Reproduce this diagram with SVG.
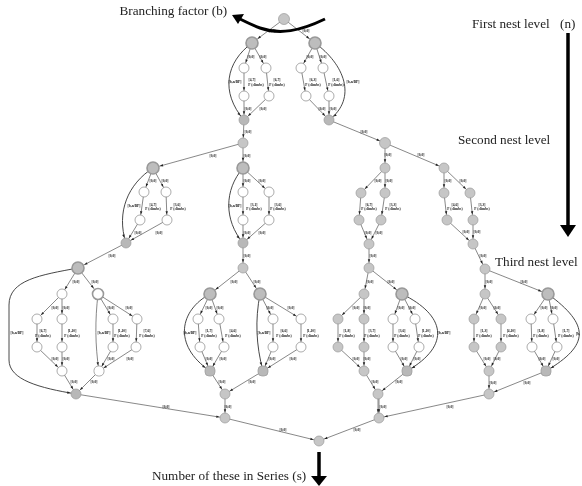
<svg xmlns="http://www.w3.org/2000/svg" width="582" height="486" viewBox="0 0 582 486">
<style>
.bg{fill:#fff}
.e{fill:none;stroke:#555;stroke-width:.7;marker-end:url(#a)}
.d{fill:none;stroke:#555;stroke-width:.7;marker-end:url(#b)}
.c{fill:none;stroke:#333;stroke-width:.9;marker-end:url(#a)}
.g{fill:#c6c6c6;stroke:#999;stroke-width:.7}
.w{fill:#fff;stroke:#888;stroke-width:.7}
.o{fill:#bdbdbd;stroke:#999;stroke-width:1.6}
.ow{fill:#fff;stroke:#999;stroke-width:1.6}
.s{fill:#b8b8b8;stroke:#999;stroke-width:.7}
text{font-family:"Liberation Serif",serif}
.l{font-size:3.6px;font-weight:700;text-anchor:middle;fill:#222}
.t{font-size:13.2px;fill:#222}
.k{fill:none;stroke:#000}
#graph{filter:url(#soft)}
</style>
<defs>
<filter id="soft" filterUnits="userSpaceOnUse" x="0" y="0" width="582" height="486"><feGaussianBlur stdDeviation="0.3"/></filter>
<marker id="a" markerUnits="userSpaceOnUse" markerWidth="4" markerHeight="4" refX="8.8" refY="1.5" orient="auto" overflow="visible"><path d="M0,.3L3.2,1.5L0,2.7z" fill="#222"/></marker>
<marker id="b" markerUnits="userSpaceOnUse" markerWidth="4" markerHeight="4" refX="10.3" refY="1.5" orient="auto" overflow="visible"><path d="M0,.3L3.2,1.5L0,2.7z" fill="#222"/></marker>
</defs>
<rect class="bg" width="582" height="486"/>
<g id="graph">
<g id="connectors">
<path class="d" d="M284,19L252,43"/><path class="d" d="M284,19L315,43"/>
<path class="e" d="M252,43L244,68"/><path class="e" d="M252,43L266,68"/>
<path class="c" d="M252,43C226,62 220,92 244,120"/>
<path class="e" d="M244,68L244,96"/><path class="e" d="M266,68L269,96"/><path class="e" d="M244,96L244,120"/><path class="e" d="M269,96L244,120"/>
<path class="e" d="M315,43L301,68"/><path class="e" d="M315,43L323,68"/>
<path class="c" d="M315,43C344,64 358,98 329,120"/>
<path class="e" d="M301,68L306,96"/><path class="e" d="M323,68L329,96"/><path class="e" d="M306,96L329,120"/><path class="e" d="M329,96L329,120"/>
<path class="e" d="M244,120L243,143"/><path class="e" d="M329,120L385,143"/>
<path class="d" d="M243,143L153,168"/><path class="d" d="M243,143L243,168"/>
<path class="e" d="M153,168L144,192"/><path class="e" d="M153,168L166,192"/>
<path class="c" d="M153,168C128,184 116,212 126,243"/>
<path class="e" d="M144,192L140,220"/><path class="e" d="M166,192L167,220"/><path class="e" d="M140,220L126,243"/><path class="e" d="M167,220L126,243"/>
<path class="d" d="M126,243L78,268"/>
<path class="e" d="M243,168L243,192"/><path class="e" d="M243,168L269,192"/>
<path class="c" d="M243,168C224,190 224,220 243,243"/>
<path class="e" d="M243,192L243,220"/><path class="e" d="M269,192L269,220"/><path class="e" d="M243,220L243,243"/><path class="e" d="M269,220L243,243"/>
<path class="e" d="M243,243L243,268"/>
<path class="e" d="M385,143L385,168"/><path class="e" d="M385,143L444,168"/>
<path class="e" d="M385,168L361,193"/><path class="e" d="M385,168L385,193"/><path class="e" d="M361,193L359,220"/><path class="e" d="M385,193L381,220"/><path class="e" d="M359,220L369,244"/><path class="e" d="M381,220L369,244"/><path class="e" d="M369,244L369,268"/>
<path class="e" d="M444,168L444,193"/><path class="e" d="M444,168L470,193"/><path class="e" d="M444,193L447,220"/><path class="e" d="M470,193L473,220"/><path class="e" d="M447,220L473,244"/><path class="e" d="M473,220L473,244"/><path class="e" d="M473,244L485,269"/>
<path class="c" d="M78,268C40,275 9,280 9,305L9,360C9,380 40,388 76,394"/>
<path class="e" d="M78,268L62,294"/><path class="d" d="M78,268L98,294"/>
<path class="e" d="M62,294L37,319"/><path class="e" d="M62,294L62,319"/><path class="e" d="M37,319L37,347"/><path class="e" d="M62,319L62,347"/><path class="e" d="M37,347L62,371"/><path class="e" d="M62,347L62,371"/>
<path class="e" d="M98,294L113,319"/><path class="e" d="M98,294L137,319"/><path class="e" d="M98,294C95,320 95,345 99,371"/>
<path class="e" d="M113,319L113,347"/><path class="e" d="M137,319L136,347"/><path class="e" d="M113,347L99,371"/><path class="e" d="M136,347L99,371"/>
<path class="e" d="M62,371L76,394"/><path class="e" d="M99,371L76,394"/>
<path class="e" d="M76,394L225,418"/><path class="e" d="M225,394L225,418"/><path class="e" d="M225,418L319,441"/><path class="e" d="M379,418L319,441"/><path class="e" d="M379,394L379,418"/><path class="e" d="M489,394L379,418"/>
<path class="d" d="M243,268L210,294"/><path class="d" d="M243,268L260,294"/>
<path class="e" d="M210,294L198,319"/><path class="e" d="M210,294L219,319"/><path class="c" d="M210,294C180,310 172,345 210,371"/>
<path class="e" d="M198,319L200,347"/><path class="e" d="M219,319L224,347"/><path class="e" d="M200,347L210,371"/><path class="e" d="M224,347L210,371"/>
<path class="e" d="M260,294L273,319"/><path class="e" d="M260,294L301,319"/><path class="c" d="M260,294C255,320 256,345 263,371"/>
<path class="e" d="M273,319L273,347"/><path class="e" d="M301,319L301,347"/><path class="e" d="M273,347L263,371"/><path class="e" d="M301,347L263,371"/>
<path class="e" d="M210,371L225,394"/><path class="e" d="M263,371L225,394"/>
<path class="e" d="M369,268L364,294"/><path class="d" d="M369,268L402,294"/>
<path class="e" d="M364,294L338,319"/><path class="e" d="M364,294L364,319"/><path class="e" d="M338,319L338,347"/><path class="e" d="M364,319L364,347"/><path class="e" d="M338,347L364,371"/><path class="e" d="M364,347L364,371"/>
<path class="e" d="M402,294L393,319"/><path class="e" d="M402,294L415,319"/><path class="c" d="M402,294C445,315 452,345 407,371"/>
<path class="e" d="M393,319L393,347"/><path class="e" d="M415,319L419,347"/><path class="e" d="M393,347L407,371"/><path class="e" d="M419,347L407,371"/>
<path class="e" d="M364,371L378,394"/><path class="e" d="M407,371L378,394"/><path class="e" d="M378,394L378,418"/>
<path class="e" d="M485,269L485,294"/><path class="d" d="M485,269L548,294"/>
<path class="e" d="M485,294L474,319"/><path class="e" d="M485,294L501,319"/><path class="e" d="M474,319L474,347"/><path class="e" d="M501,319L501,347"/><path class="e" d="M474,347L489,371"/><path class="e" d="M501,347L489,371"/><path class="e" d="M489,371L489,394"/>
<path class="e" d="M548,294L531,319"/><path class="e" d="M548,294L553,319"/><path class="c" d="M548,294C590,325 590,345 546,371"/>
<path class="e" d="M531,319L532,347"/><path class="e" d="M553,319L557,347"/><path class="e" d="M532,347L546,371"/><path class="e" d="M557,347L546,371"/>
<path class="e" d="M546,371L489,394"/>
</g>
<g id="nodes">
<g id="n1"><circle class="g" cx="284" cy="19" r="5.5"/></g>
<g id="n2"><circle class="o" cx="252" cy="43" r="6"/></g>
<g id="n3"><circle class="o" cx="315" cy="43" r="6"/></g>
<g id="n4"><circle class="w" cx="244" cy="68" r="5"/></g>
<g id="n5"><circle class="w" cx="266" cy="68" r="5"/></g>
<g id="n6"><circle class="w" cx="244" cy="96" r="5"/></g>
<g id="n7"><circle class="w" cx="269" cy="96" r="5"/></g>
<g id="n8"><circle class="s" cx="244" cy="120" r="5"/></g>
<g id="n9"><circle class="w" cx="301" cy="68" r="5"/></g>
<g id="n10"><circle class="w" cx="323" cy="68" r="5"/></g>
<g id="n11"><circle class="w" cx="306" cy="96" r="5"/></g>
<g id="n12"><circle class="w" cx="329" cy="96" r="5"/></g>
<g id="n13"><circle class="s" cx="329" cy="120" r="5"/></g>
<g id="n14"><circle class="g" cx="243" cy="143" r="5"/></g>
<g id="n15"><circle class="o" cx="153" cy="168" r="6"/></g>
<g id="n16"><circle class="o" cx="243" cy="168" r="6"/></g>
<g id="n17"><circle class="w" cx="144" cy="192" r="5"/></g>
<g id="n18"><circle class="w" cx="166" cy="192" r="5"/></g>
<g id="n19"><circle class="w" cx="140" cy="220" r="5"/></g>
<g id="n20"><circle class="w" cx="167" cy="220" r="5"/></g>
<g id="n21"><circle class="s" cx="126" cy="243" r="5"/></g>
<g id="n22"><circle class="w" cx="243" cy="192" r="5"/></g>
<g id="n23"><circle class="w" cx="269" cy="192" r="5"/></g>
<g id="n24"><circle class="w" cx="243" cy="220" r="5"/></g>
<g id="n25"><circle class="w" cx="269" cy="220" r="5"/></g>
<g id="n26"><circle class="s" cx="243" cy="243" r="5"/></g>
<g id="n27"><circle class="g" cx="243" cy="268" r="5"/></g>
<g id="n28"><circle class="g" cx="385" cy="143" r="5.5"/></g>
<g id="n29"><circle class="g" cx="385" cy="168" r="5"/></g>
<g id="n30"><circle class="g" cx="444" cy="168" r="5"/></g>
<g id="n31"><circle class="g" cx="361" cy="193" r="5"/></g>
<g id="n32"><circle class="g" cx="385" cy="193" r="5"/></g>
<g id="n33"><circle class="g" cx="359" cy="220" r="5"/></g>
<g id="n34"><circle class="g" cx="381" cy="220" r="5"/></g>
<g id="n35"><circle class="g" cx="369" cy="244" r="5"/></g>
<g id="n36"><circle class="g" cx="369" cy="268" r="5"/></g>
<g id="n37"><circle class="g" cx="444" cy="193" r="5"/></g>
<g id="n38"><circle class="g" cx="470" cy="193" r="5"/></g>
<g id="n39"><circle class="g" cx="447" cy="220" r="5"/></g>
<g id="n40"><circle class="g" cx="473" cy="220" r="5"/></g>
<g id="n41"><circle class="g" cx="473" cy="244" r="5"/></g>
<g id="n42"><circle class="g" cx="485" cy="269" r="5"/></g>
<g id="n43"><circle class="o" cx="78" cy="268" r="6"/></g>
<g id="n44"><circle class="w" cx="62" cy="294" r="5"/></g>
<g id="n45"><circle class="ow" cx="98" cy="294" r="5.5"/></g>
<g id="n46"><circle class="w" cx="37" cy="319" r="5"/></g>
<g id="n47"><circle class="w" cx="62" cy="319" r="5"/></g>
<g id="n48"><circle class="w" cx="113" cy="319" r="5"/></g>
<g id="n49"><circle class="w" cx="137" cy="319" r="5"/></g>
<g id="n50"><circle class="w" cx="37" cy="347" r="5"/></g>
<g id="n51"><circle class="w" cx="62" cy="347" r="5"/></g>
<g id="n52"><circle class="w" cx="113" cy="347" r="5"/></g>
<g id="n53"><circle class="w" cx="136" cy="347" r="5"/></g>
<g id="n54"><circle class="w" cx="62" cy="371" r="5"/></g>
<g id="n55"><rect class="w" x="94" y="366" width="10" height="10" rx="4.5"/></g>
<g id="n56"><circle class="s" cx="76" cy="394" r="5"/></g>
<g id="n57"><circle class="o" cx="210" cy="294" r="6"/></g>
<g id="n58"><circle class="o" cx="260" cy="294" r="6"/></g>
<g id="n59"><circle class="w" cx="198" cy="319" r="5"/></g>
<g id="n60"><circle class="w" cx="219" cy="319" r="5"/></g>
<g id="n61"><circle class="w" cx="273" cy="319" r="5"/></g>
<g id="n62"><circle class="w" cx="301" cy="319" r="5"/></g>
<g id="n63"><circle class="w" cx="200" cy="347" r="5"/></g>
<g id="n64"><circle class="w" cx="224" cy="347" r="5"/></g>
<g id="n65"><circle class="w" cx="273" cy="347" r="5"/></g>
<g id="n66"><circle class="w" cx="301" cy="347" r="5"/></g>
<g id="n67"><rect class="s" x="205" y="366" width="10" height="10" rx="4"/></g>
<g id="n68"><rect class="s" x="258" y="366" width="10" height="10" rx="4"/></g>
<g id="n69"><circle class="g" cx="225" cy="394" r="5"/></g>
<g id="n70"><circle class="g" cx="225" cy="418" r="5"/></g>
<g id="n71"><circle class="g" cx="364" cy="294" r="5"/></g>
<g id="n72"><circle class="o" cx="402" cy="294" r="6"/></g>
<g id="n73"><circle class="g" cx="338" cy="319" r="5"/></g>
<g id="n74"><circle class="g" cx="364" cy="319" r="5"/></g>
<g id="n75"><circle class="w" cx="393" cy="319" r="5"/></g>
<g id="n76"><circle class="w" cx="415" cy="319" r="5"/></g>
<g id="n77"><circle class="g" cx="338" cy="347" r="5"/></g>
<g id="n78"><circle class="g" cx="364" cy="347" r="5"/></g>
<g id="n79"><circle class="w" cx="393" cy="347" r="5"/></g>
<g id="n80"><circle class="w" cx="419" cy="347" r="5"/></g>
<g id="n81"><circle class="g" cx="364" cy="371" r="5"/></g>
<g id="n82"><rect class="s" x="402" y="366" width="10" height="10" rx="4"/></g>
<g id="n83"><circle class="g" cx="378" cy="394" r="5"/></g>
<g id="n84"><circle class="g" cx="379" cy="418" r="5"/></g>
<g id="n85"><circle class="g" cx="485" cy="294" r="5"/></g>
<g id="n86"><circle class="o" cx="548" cy="294" r="6"/></g>
<g id="n87"><circle class="g" cx="474" cy="319" r="5"/></g>
<g id="n88"><circle class="g" cx="501" cy="319" r="5"/></g>
<g id="n89"><circle class="w" cx="531" cy="319" r="5"/></g>
<g id="n90"><circle class="w" cx="553" cy="319" r="5"/></g>
<g id="n91"><circle class="g" cx="474" cy="347" r="5"/></g>
<g id="n92"><circle class="g" cx="501" cy="347" r="5"/></g>
<g id="n93"><circle class="w" cx="532" cy="347" r="5"/></g>
<g id="n94"><circle class="w" cx="557" cy="347" r="5"/></g>
<g id="n95"><circle class="g" cx="489" cy="371" r="5"/></g>
<g id="n96"><rect class="s" x="541" y="366" width="10" height="10" rx="4"/></g>
<g id="n97"><circle class="g" cx="489" cy="394" r="5"/></g>
<g id="n98"><circle class="g" cx="319" cy="441" r="5"/></g>
</g>
<g id="edge-labels">
<text class="l" x="272" y="32">[0,0]</text><text class="l" x="306" y="32">[0,0]</text><text class="l" x="251" y="58">[0,0]</text><text class="l" x="263" y="58">[0,0]</text><text class="l" x="310" y="58">[0,0]</text><text class="l" x="323" y="58">[0,0]</text>
<text class="l" x="235" y="83">[b,n/BP]</text><text class="l" x="252" y="81">[4,7]</text><text class="l" x="256" y="86">P (climbs)</text><text class="l" x="277" y="81">[6,7]</text><text class="l" x="277" y="86">P (climbs)</text>
<text class="l" x="313" y="81">[6,3]</text><text class="l" x="313" y="86">P (climbs)</text><text class="l" x="336" y="81">[1,6]</text><text class="l" x="336" y="86">P (climbs)</text><text class="l" x="353" y="83">[b,n/BP]</text>
<text class="l" x="248" y="110">[0,0]</text><text class="l" x="263" y="110">[0,0]</text><text class="l" x="322" y="110">[0,0]</text><text class="l" x="333" y="110">[0,0]</text>
<text class="l" x="248" y="133">[0,0]</text><text class="l" x="364" y="133">[0,0]</text><text class="l" x="213" y="157">[0,0]</text><text class="l" x="247" y="157">[0,0]</text><text class="l" x="388" y="156">[0,0]</text><text class="l" x="421" y="156">[0,0]</text>
<text class="l" x="153" y="182">[0,0]</text><text class="l" x="165" y="182">[0,0]</text><text class="l" x="247" y="182">[0,0]</text><text class="l" x="262" y="182">[0,0]</text><text class="l" x="378" y="182">[0,0]</text><text class="l" x="389" y="182">[0,0]</text><text class="l" x="448" y="182">[0,0]</text><text class="l" x="463" y="182">[0,0]</text>
<text class="l" x="134" y="207">[b,n/BP]</text><text class="l" x="153" y="206">[4,7]</text><text class="l" x="153" y="210">P (climbs)</text><text class="l" x="177" y="206">[3,6]</text><text class="l" x="178" y="210">P (climbs)</text>
<text class="l" x="235" y="207">[b,n/BP]</text><text class="l" x="254" y="206">[3,1]</text><text class="l" x="254" y="210">P (climbs)</text><text class="l" x="278" y="206">[3,6]</text><text class="l" x="278" y="210">P (climbs)</text>
<text class="l" x="369" y="206">[6,7]</text><text class="l" x="369" y="210">P (climbs)</text><text class="l" x="393" y="206">[3,3]</text><text class="l" x="393" y="210">P (climbs)</text><text class="l" x="455" y="206">[4,6]</text><text class="l" x="455" y="210">P (climbs)</text><text class="l" x="482" y="206">[3,3]</text><text class="l" x="482" y="210">P (climbs)</text>
<text class="l" x="138" y="234">[0,0]</text><text class="l" x="159" y="234">[0,0]</text><text class="l" x="247" y="234">[0,0]</text><text class="l" x="262" y="234">[0,0]</text><text class="l" x="368" y="234">[0,0]</text><text class="l" x="379" y="234">[0,0]</text><text class="l" x="466" y="233">[0,0]</text><text class="l" x="477" y="233">[0,0]</text>
<text class="l" x="112" y="257">[0,0]</text><text class="l" x="247" y="257">[0,0]</text><text class="l" x="373" y="257">[0,0]</text><text class="l" x="483" y="257">[0,0]</text>
<text class="l" x="76" y="283">[0,0]</text><text class="l" x="95" y="283">[0,0]</text><text class="l" x="234" y="283">[0,0]</text><text class="l" x="257" y="283">[0,0]</text><text class="l" x="370" y="283">[0,0]</text><text class="l" x="391" y="283">[0,0]</text><text class="l" x="489" y="283">[0,0]</text><text class="l" x="524" y="283">[0,0]</text>
<text class="l" x="55" y="309">[0,0]</text><text class="l" x="66" y="309">[0,0]</text><text class="l" x="111" y="309">[0,0]</text><text class="l" x="129" y="309">[0,0]</text><text class="l" x="209" y="309">[0,0]</text><text class="l" x="220" y="309">[0,0]</text><text class="l" x="270" y="309">[0,0]</text><text class="l" x="291" y="309">[0,0]</text><text class="l" x="356" y="309">[0,0]</text><text class="l" x="367" y="309">[0,0]</text><text class="l" x="401" y="309">[0,0]</text><text class="l" x="412" y="309">[0,0]</text><text class="l" x="483" y="309">[0,0]</text><text class="l" x="497" y="309">[0,0]</text><text class="l" x="544" y="309">[0,0]</text><text class="l" x="554" y="309">[0,0]</text>
<text class="l" x="17" y="334">[b,n/BP]</text><text class="l" x="43" y="332">[6,7]</text><text class="l" x="43" y="337">P (climbs)</text><text class="l" x="72" y="332">[1,10]</text><text class="l" x="72" y="337">P (climbs)</text><text class="l" x="104" y="334">[b,n/BP]</text><text class="l" x="122" y="332">[1,10]</text><text class="l" x="122" y="337">P (climbs)</text><text class="l" x="147" y="332">[7,6]</text><text class="l" x="147" y="337">P (climbs)</text>
<text class="l" x="190" y="334">[b,n/BP]</text><text class="l" x="209" y="332">[1,7]</text><text class="l" x="209" y="337">P (climbs)</text><text class="l" x="233" y="332">[4,6]</text><text class="l" x="233" y="337">P (climbs)</text><text class="l" x="264" y="334">[b,n/BP]</text><text class="l" x="284" y="332">[6,6]</text><text class="l" x="284" y="337">P (climbs)</text><text class="l" x="311" y="332">[1,10]</text><text class="l" x="311" y="337">P (climbs)</text>
<text class="l" x="347" y="332">[1,8]</text><text class="l" x="347" y="337">P (climbs)</text><text class="l" x="372" y="332">[3,7]</text><text class="l" x="372" y="337">P (climbs)</text><text class="l" x="402" y="332">[3,6]</text><text class="l" x="402" y="337">P (climbs)</text><text class="l" x="426" y="332">[1,10]</text><text class="l" x="426" y="337">P (climbs)</text><text class="l" x="444" y="334">[b,n/BP]</text>
<text class="l" x="484" y="332">[1,3]</text><text class="l" x="484" y="337">P (climbs)</text><text class="l" x="511" y="332">[4,10]</text><text class="l" x="511" y="337">P (climbs)</text><text class="l" x="541" y="332">[1,8]</text><text class="l" x="541" y="337">P (climbs)</text><text class="l" x="566" y="332">[1,7]</text><text class="l" x="566" y="337">P (climbs)</text><text class="l" x="578" y="335">[b,</text>
<text class="l" x="55" y="360">[0,0]</text><text class="l" x="66" y="360">[0,0]</text><text class="l" x="111" y="360">[0,0]</text><text class="l" x="130" y="360">[0,0]</text><text class="l" x="209" y="360">[0,0]</text><text class="l" x="223" y="360">[0,0]</text><text class="l" x="272" y="360">[0,0]</text><text class="l" x="293" y="360">[0,0]</text><text class="l" x="356" y="360">[0,0]</text><text class="l" x="367" y="360">[0,0]</text><text class="l" x="404" y="360">[0,0]</text><text class="l" x="417" y="360">[0,0]</text><text class="l" x="487" y="360">[0,0]</text><text class="l" x="497" y="360">[0,0]</text><text class="l" x="542" y="360">[0,0]</text><text class="l" x="556" y="360">[0,0]</text>
<text class="l" x="74" y="383">[0,0]</text><text class="l" x="94" y="383">[0,0]</text><text class="l" x="222" y="383">[0,0]</text><text class="l" x="252" y="383">[0,0]</text><text class="l" x="375" y="383">[0,0]</text><text class="l" x="399" y="383">[0,0]</text><text class="l" x="493" y="384">[0,0]</text><text class="l" x="527" y="384">[0,0]</text>
<text class="l" x="166" y="408">[0,0]</text><text class="l" x="228" y="408">[0,0]</text><text class="l" x="383" y="408">[0,0]</text><text class="l" x="450" y="408">[0,0]</text><text class="l" x="283" y="431">[0,0]</text><text class="l" x="357" y="431">[0,0]</text>
</g>
<g id="annotations">
<path class="k" stroke-width="3" d="M325,19C300,31 280,35 260,28C252,25 248,23 240,19"/>
<polygon points="232,15 244,14 238,24"/>
<path class="k" stroke-width="3.5" d="M568,33L568,226"/>
<polygon points="560,225 576,225 568,237"/>
<path class="k" stroke-width="3.5" d="M319,452L319,477"/>
<polygon points="311,476 327,476 319,486"/>
<text class="t" x="119.5" y="15">Branching factor (b)</text>
<text class="t" x="472" y="28">First nest level</text>
<text class="t" x="560" y="28">(n)</text>
<text class="t" x="458" y="144">Second nest level</text>
<text class="t" x="495" y="266">Third nest level</text>
<text class="t" x="152" y="480">Number of these in Series (s)</text>
</g>
</g>
</svg>
